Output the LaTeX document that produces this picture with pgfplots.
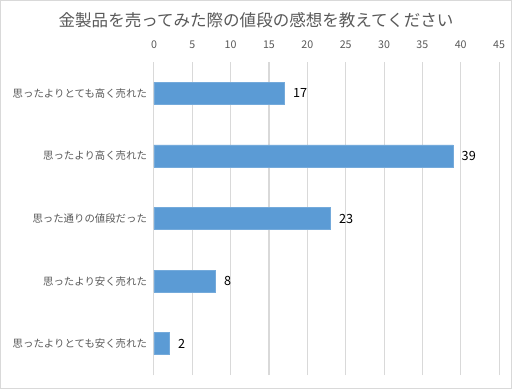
\documentclass[border=0pt]{standalone}
\usepackage{fontspec}
\setmainfont{Noto Sans CJK JP}
\usepackage{pgfplots}
\pgfplotsset{compat=1.18}
\definecolor{barblue}{HTML}{5B9BD5}
\definecolor{gridgray}{HTML}{D9D9D9}
\definecolor{txtgray}{HTML}{595959}
\begin{document}
\begin{tikzpicture}[x=1pt,y=1pt]
\draw[gridgray,line width=0.75pt,fill=white] (0.4,0.4) rectangle (383.6,291.35);
\node[txtgray,font=\fontsize{12.4}{14}\selectfont] at (192,276.5) {金製品を売ってみた際の値段の感想を教えてください};
\begin{axis}[
  at={(115.5pt,10.5pt)}, anchor=south west,
  scale only axis, width=258.75pt, height=234.75pt,
  xmin=0, xmax=45, ymin=-0.5, ymax=4.5,
  axis x line*=top, axis y line*=left,
  x axis line style={draw=none},
  y axis line style={gridgray, line width=0.75pt},
  xtick={0,5,...,45},
  xtick style={draw=none},
  xmajorgrids, grid style={gridgray, line width=0.75pt},
  ytick={0,1,2,3,4},
  yticklabels={思ったよりとても安く売れた,思ったより安く売れた,思った通りの値段だった,思ったより高く売れた,思ったよりとても高く売れた},
  ytick style={draw=none},
  minor ytick={-0.5,0.5,1.5,2.5,3.5,4.5},
  minor tick length=3pt,
  tick align=outside,
  minor tick style={gridgray, line width=0.75pt},
  /pgf/number format/assume math mode=true,
  ticklabel style={txtgray, font=\fontsize{8}{9.5}\selectfont},
  xticklabel style={yshift=2pt},
  yticklabel style={xshift=2.5pt, font=\fontsize{7.8}{9.5}\selectfont},
  xbar, bar width=0.35,
  nodes near coords,
  nodes near coords style={black, font=\fontsize{9.5}{11}\selectfont, anchor=west, xshift=3pt},
  clip=false,
]
\addplot[fill=barblue, draw=barblue!85!white, line width=0.4pt] coordinates {(2,0) (8,1) (23,2) (39,3) (17,4)};
\end{axis}
\end{tikzpicture}
\end{document}
